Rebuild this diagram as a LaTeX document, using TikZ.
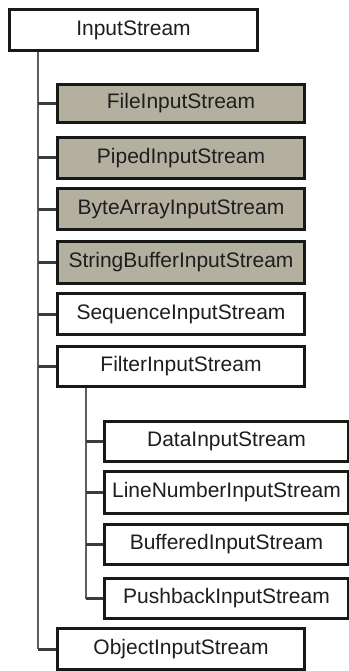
\documentclass[tikz,border=0pt]{standalone}
\usepackage{fontspec}
\setmainfont{Liberation Sans}
\definecolor{boxgray}{RGB}{180,176,160}
\definecolor{edgecol}{RGB}{24,24,22}
\definecolor{trunkcol}{RGB}{95,95,85}
\definecolor{textcol}{RGB}{30,30,30}
\begin{document}
\begin{tikzpicture}[x=1pt,y=-1pt,
  cls/.style={draw=edgecol, line width=3pt, fill=white, inner sep=0pt,
    anchor=north west, minimum height=40pt, text=textcol,
    font=\fontsize{21}{24}\selectfont},
  shaded/.style={cls, fill=boxgray},
  trunkline/.style={draw=trunkcol, line width=2.4pt},
  branch/.style={draw=edgecol!85, line width=3pt}]
  \useasboundingbox (0,0) rectangle (348,671);

  % root class
  \node[cls, minimum width=248pt, minimum height=41pt] (is) at (8,8) {InputStream};

  % direct subclasses
  \node[shaded, minimum width=247pt, minimum height=38pt] (file)  at (56,83)  {FileInputStream};
  \node[shaded, minimum width=247pt, minimum height=41pt] (piped) at (56,136) {PipedInputStream};
  \node[shaded, minimum width=247pt, minimum height=41pt] (byte)  at (56,187) {ByteArrayInputStream};
  \node[shaded, minimum width=247pt, minimum height=42pt] (sbuf)  at (56,240) {StringBufferInputStream};
  \node[cls,    minimum width=247pt, minimum height=41pt] (seq)   at (56,292) {SequenceInputStream};
  \node[cls,    minimum width=247pt, minimum height=40pt] (filter) at (56,345) {FilterInputStream};
  \node[cls,    minimum width=247pt, minimum height=41pt] (obj)   at (56,627) {ObjectInputStream};

  % filter subclasses
  \node[cls, minimum width=244pt, minimum height=40pt] (data) at (103,420) {DataInputStream};
  \node[cls, minimum width=244pt, minimum height=42pt] (line) at (103,470) {LineNumberInputStream};
  \node[cls, minimum width=244pt, minimum height=40pt] (buff) at (103,523) {BufferedInputStream};
  \node[cls, minimum width=244pt, minimum height=40pt] (push) at (103,577) {PushbackInputStream};

  % main trunk
  \coordinate (top) at ([xshift=30pt]is.south west);
  \draw[trunkline] (top) -- (top |- obj.west);
  \foreach \n in {file,piped,byte,sbuf,seq,filter,obj}
    \draw[branch] (\n.west) -- (\n.west -| top);

  % filter trunk
  \coordinate (ftop) at ([xshift=30pt]filter.south west);
  \draw[trunkline] (ftop) -- (ftop |- push.west);
  \foreach \n in {data,line,buff,push}
    \draw[branch] (\n.west) -- (\n.west -| ftop);
\end{tikzpicture}
\end{document}
